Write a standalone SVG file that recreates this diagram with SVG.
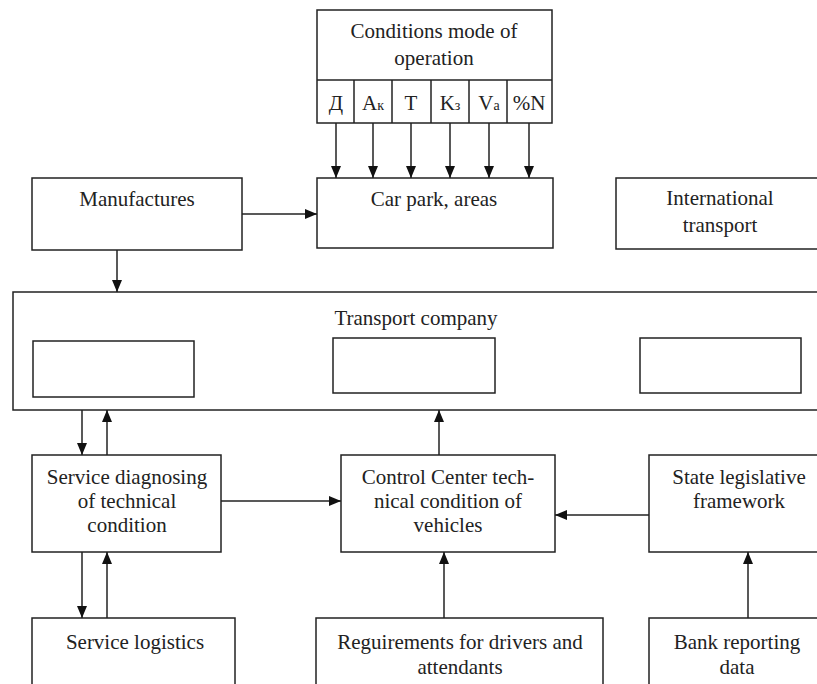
<svg xmlns="http://www.w3.org/2000/svg" width="817" height="684" viewBox="0 0 817 684">
<defs>
<style>
.b{fill:#fff;stroke:#222;stroke-width:1.5}
.t{font-family:"Liberation Serif","Times New Roman",serif;font-size:21px;fill:#222;text-anchor:middle}
.c{stroke:#222;stroke-width:1.5;fill:none;marker-end:url(#ah)}
</style>
<marker id="ah" viewBox="0 0 12 10" refX="12" refY="5" markerWidth="12" markerHeight="10" markerUnits="userSpaceOnUse" orient="auto">
<path d="M0,0 L12,5 L0,10 z" fill="#111"/>
</marker>
</defs>
<rect width="817" height="684" fill="#fff"/>
<g id="conditions">
<rect class="b" x="317" y="10" width="235" height="113"/>
<line x1="317" y1="80" x2="552" y2="80" stroke="#222" stroke-width="1.5"/>
<line x1="354" y1="80" x2="354" y2="123" stroke="#222" stroke-width="1.5"/>
<line x1="392" y1="80" x2="392" y2="123" stroke="#222" stroke-width="1.5"/>
<line x1="431" y1="80" x2="431" y2="123" stroke="#222" stroke-width="1.5"/>
<line x1="469" y1="80" x2="469" y2="123" stroke="#222" stroke-width="1.5"/>
<line x1="507" y1="80" x2="507" y2="123" stroke="#222" stroke-width="1.5"/>
<text class="t" x="434" y="38">Conditions mode of</text>
<text class="t" x="434" y="65">operation</text>
<text class="t" x="336" y="110">Д</text>
<text class="t" x="373" y="110">A<tspan font-size="14">к</tspan></text>
<text class="t" x="411" y="110">T</text>
<text class="t" x="450" y="110">K<tspan font-size="14">з</tspan></text>
<text class="t" x="489" y="110">V<tspan font-size="14">a</tspan></text>
<text class="t" x="529" y="110">%N</text>
</g>
<g id="carpark">
<rect class="b" x="317" y="178" width="236" height="70"/>
<text class="t" x="434" y="206">Car park, areas</text>
</g>
<g id="manufactures">
<rect class="b" x="32" y="178" width="210" height="72"/>
<text class="t" x="137" y="206">Manufactures</text>
</g>
<g id="international">
<rect class="b" x="616" y="178" width="210" height="71"/>
<text class="t" x="720" y="205">International</text>
<text class="t" x="720" y="232">transport</text>
</g>
<g id="transport">
<rect class="b" x="13" y="292" width="810" height="118"/>
<text class="t" x="416" y="325">Transport company</text>
<rect class="b" x="33" y="341" width="161" height="56"/>
<rect class="b" x="333" y="338" width="162" height="55"/>
<rect class="b" x="640" y="338" width="161" height="55"/>
</g>
<g id="diagnosing">
<rect class="b" x="32" y="455" width="189" height="97"/>
<text class="t" x="127" y="484">Service diagnosing</text>
<text class="t" x="127" y="508">of technical</text>
<text class="t" x="127" y="532">condition</text>
</g>
<g id="control">
<rect class="b" x="341" y="455" width="214" height="97"/>
<text class="t" x="448" y="484">Control Center tech-</text>
<text class="t" x="448" y="508">nical condition of</text>
<text class="t" x="448" y="532">vehicles</text>
</g>
<g id="state">
<rect class="b" x="649" y="455" width="180" height="97"/>
<text class="t" x="739" y="484">State legislative</text>
<text class="t" x="739" y="508">framework</text>
</g>
<g id="logistics">
<rect class="b" x="32" y="618" width="203" height="80"/>
<text class="t" x="135" y="649">Service logistics</text>
</g>
<g id="requirements">
<rect class="b" x="316" y="618" width="287" height="80"/>
<text class="t" x="460" y="649">Reguirements for drivers and</text>
<text class="t" x="460" y="674">attendants</text>
</g>
<g id="bank">
<rect class="b" x="649" y="618" width="180" height="80"/>
<text class="t" x="737" y="649">Bank reporting</text>
<text class="t" x="737" y="674">data</text>
</g>
<g id="connectors">
<line class="c" x1="336" y1="123" x2="336" y2="178"/>
<line class="c" x1="373" y1="123" x2="373" y2="178"/>
<line class="c" x1="411" y1="123" x2="411" y2="178"/>
<line class="c" x1="450" y1="123" x2="450" y2="178"/>
<line class="c" x1="489" y1="123" x2="489" y2="178"/>
<line class="c" x1="529" y1="123" x2="529" y2="178"/>
<line class="c" x1="242" y1="214" x2="317" y2="214"/>
<line class="c" x1="117" y1="250" x2="117" y2="292"/>
<line class="c" x1="82" y1="410" x2="82" y2="455"/>
<line class="c" x1="107" y1="455" x2="107" y2="410"/>
<line class="c" x1="439" y1="455" x2="439" y2="410"/>
<line class="c" x1="221" y1="501" x2="341" y2="501"/>
<line class="c" x1="649" y1="515" x2="555" y2="515"/>
<line class="c" x1="82" y1="552" x2="82" y2="618"/>
<line class="c" x1="107" y1="618" x2="107" y2="552"/>
<line class="c" x1="444" y1="618" x2="444" y2="552"/>
<line class="c" x1="748" y1="618" x2="748" y2="552"/>
</g>
</svg>
